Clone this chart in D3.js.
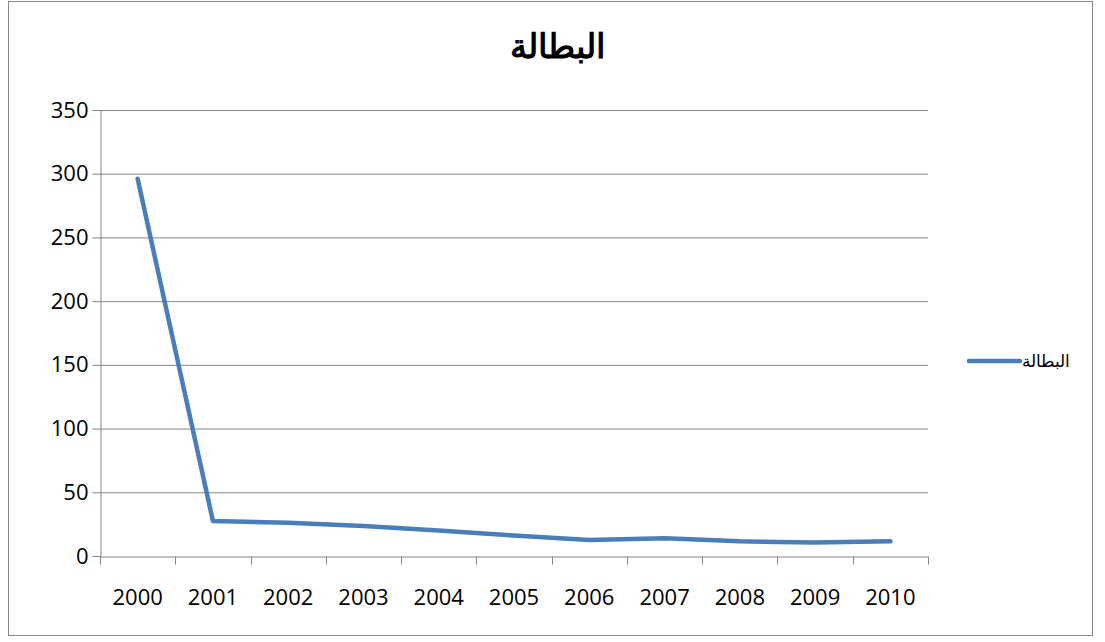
<!DOCTYPE html>
<html>
<head>
<meta charset="utf-8">
<script src="https://cdn.jsdelivr.net/npm/d3@7"></script>
<style>
  body { margin: 0; background: #fff; }
  svg text { font-family: "Open Sans", "Liberation Sans", sans-serif; }
</style>
</head>
<body>
<svg id="chart" width="1105" height="642"></svg>
<script>
// chart data
var years = ['2000', '2001', '2002', '2003', '2004', '2005', '2006', '2007', '2008', '2009', '2010']
var unemployment = [296, 27.5, 26, 23.5, 20, 16, 12.5, 14, 11.5, 10.5, 11.5]
var yTicks = [0, 50, 100, 150, 200, 250, 300, 350]
var seriesName = 'البطالة'

var margin = { top: 110, right: 177, bottom: 86, left: 100 }
var width = 1105, height = 642

var svg = d3.select('#chart')

// outer frame
svg.append('rect')
  .attr('x', 8.5).attr('y', 1.5)
  .attr('width', 1084).attr('height', 634)
  .attr('fill', 'none').attr('stroke', '#868686').attr('stroke-width', 1)

var g = svg.append('g').attr('transform', 'translate(' + margin.left + ',' + margin.top + ')')
var w = width - margin.left - margin.right
var h = height - margin.top - margin.bottom

var xScale = d3.scaleBand().domain(years).range([0, w])
var yScale = d3.scaleLinear().domain([0, 350]).range([h, 0])

// horizontal grid
g.selectAll('.grid').data(yTicks.slice(1)).enter().append('line')
  .attr('x1', 0).attr('x2', w)
  .attr('y1', d => yScale(d) + 0.5).attr('y2', d => yScale(d) + 0.5)
  .attr('stroke', '#868686')

// y axis
var yAxis = d3.axisLeft(yScale).tickValues(yTicks).tickSize(8).tickPadding(4)
var yg = g.append('g').attr('transform', 'translate(0.5,0)').call(yAxis)
yg.selectAll('text').attr('font-size', 22).attr('fill', '#000')

// x axis with ticks between categories
var xAxis = d3.axisBottom(xScale).tickSize(0).tickPadding(33)
var xg = g.append('g').attr('transform', 'translate(0,' + (h + 0.5) + ')').call(xAxis)
xg.selectAll('text').attr('font-size', 22).attr('fill', '#000')
var bounds = years.map(d => xScale(d)).concat([w])
xg.selectAll('.sep').data(bounds).enter().append('line')
  .attr('x1', d => Math.round(d) + 0.5).attr('x2', d => Math.round(d) + 0.5)
  .attr('y1', 0).attr('y2', 8)
  .attr('stroke', '#868686')

g.selectAll('.domain').attr('stroke', '#868686')
g.selectAll('.tick line').attr('stroke', '#868686')

// the series
var line = d3.line()
  .x((d, i) => xScale(years[i]) + xScale.bandwidth() / 2)
  .y(d => yScale(d))

g.append('path')
  .datum(unemployment)
  .attr('d', line)
  .attr('fill', 'none')
  .attr('stroke', '#4a7ebb')
  .attr('stroke-width', 4.5)
  .attr('stroke-linecap', 'round')
  .attr('stroke-linejoin', 'round')

// title
svg.append('text')
  .attr('x', 557).attr('y', 58)
  .attr('text-anchor', 'middle')
  .attr('font-size', 34).attr('font-weight', 'bold')
  .attr('font-family', '"DejaVu Sans", sans-serif')
  .text(seriesName)

// legend
svg.append('line')
  .attr('x1', 969).attr('x2', 1020)
  .attr('y1', 361).attr('y2', 361)
  .attr('stroke', '#4a7ebb').attr('stroke-width', 4.5).attr('stroke-linecap', 'round')
svg.append('text')
  .attr('x', 1022).attr('y', 367)
  .attr('font-size', 17)
  .attr('font-family', '"DejaVu Sans", sans-serif')
  .text(seriesName)
</script>
</body>
</html>
